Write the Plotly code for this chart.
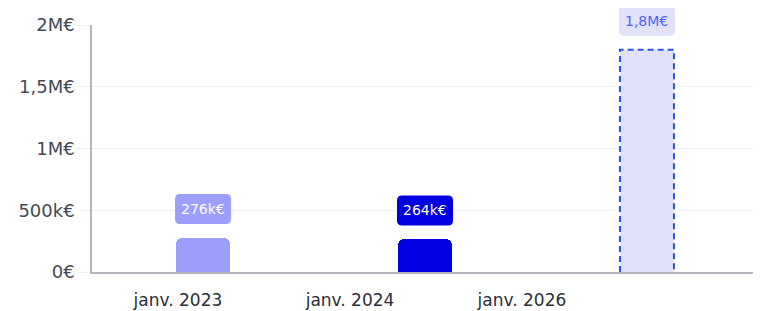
import plotly.graph_objects as go

# ---- data ----
bar_labels = ["276k€", "264k€", "1,8M€"]
bar_values = [276000, 264000, 1800000]
bar_positions = [0.668, 2.003, 3.338]
tick_positions = [0.517, 1.552, 2.586]
tick_labels = ["janv. 2023", "janv. 2024", "janv. 2026"]
y_tick_values = [0, 500000, 1000000, 1500000, 2000000]
y_tick_labels = ["0€", "500k€", "1M€", "1,5M€", "2M€"]

FONT = "DejaVu Sans"
LABEL_FONT = "DejaVu Sans"
Y_MAX = 2000000
BAR_W = 0.325
bar_fill = ["#9c9efb", "#0000e1", "#e1e1fa"]
label_bg = ["#9c9efb", "#0000e1", "#e1e1fa"]
label_fg = ["#ffffff", "#ffffff", "#4d64f2"]

fig = go.Figure()

# solid bars (rounded)
fig.add_trace(go.Bar(
    x=bar_positions[:2], y=bar_values[:2], width=BAR_W,
    marker=dict(color=bar_fill[:2], cornerradius=6, line=dict(width=0)),
    hoverinfo="skip", showlegend=False,
))
# projected bar
fig.add_trace(go.Bar(
    x=bar_positions[2:], y=bar_values[2:], width=BAR_W,
    marker=dict(color=bar_fill[2], line=dict(width=0)),
    hoverinfo="skip", showlegend=False,
))
# dashed outline of projected bar
px = bar_positions[2]
pv = bar_values[2]
fig.add_trace(go.Scatter(
    x=[px - BAR_W / 2, px - BAR_W / 2, px + BAR_W / 2, px + BAR_W / 2],
    y=[0, pv, pv, 0],
    mode="lines",
    line=dict(color="#2a52f4", width=2, dash="6px,4px"),
    hoverinfo="skip", showlegend=False, cliponaxis=False,
))

def rounded_rect(x0, y0, x1, y1, r):
    return (f"M {x0+r},{y0} L {x1-r},{y0} Q {x1},{y0} {x1},{y0+r} "
            f"L {x1},{y1-r} Q {x1},{y1} {x1-r},{y1} L {x0+r},{y1} "
            f"Q {x0},{y1} {x0},{y1-r} L {x0},{y0+r} Q {x0},{y0} {x0+r},{y0} Z")

shapes = []
annotations = []
for i, (xv, v, lab) in enumerate(zip(bar_positions, bar_values, bar_labels)):
    shapes.append(dict(
        type="path", xref="x", yref="paper",
        xsizemode="pixel", ysizemode="pixel",
        xanchor=xv, yanchor=v / Y_MAX,
        path=rounded_rect(-28, 14, 28, 44, 5),
        fillcolor=label_bg[i], line=dict(width=0), layer="above",
    ))
    annotations.append(dict(
        x=xv, y=v, xref="x", yref="y", text=lab, showarrow=False,
        yanchor="middle", yshift=29,
        font=dict(family=LABEL_FONT, size=14, color=label_fg[i]),
    ))

fig.update_layout(
    width=753, height=303,
    margin=dict(l=84, r=4, t=17, b=39, autoexpand=False),
    paper_bgcolor="white", plot_bgcolor="white",
    font=dict(family=FONT, size=17, color="#454954"),
    shapes=shapes, annotations=annotations,
    bargap=0,
)
fig.update_xaxes(
    range=[0, 4], tickvals=tick_positions, ticktext=tick_labels,
    showgrid=False, zeroline=False, automargin=False,
    showline=True, linecolor="#b3b6bd", linewidth=1.5,
    ticks="outside", ticklen=12, tickcolor="rgba(0,0,0,0)",
    tickfont=dict(family=FONT, size=17, color="#2a2e38"),
)
fig.update_yaxes(
    range=[0, Y_MAX], tickvals=y_tick_values, ticktext=y_tick_labels,
    showgrid=True, gridcolor="#eef0f3", gridwidth=1, zeroline=False, automargin=False,
    showline=True, linecolor="#b3b6bd", linewidth=1.5,
    ticks="outside", ticklen=12, tickcolor="#eef0f3",
    tickfont=dict(family=FONT, size=18, color="#454954"),
)

fig.write_html("out.html")
